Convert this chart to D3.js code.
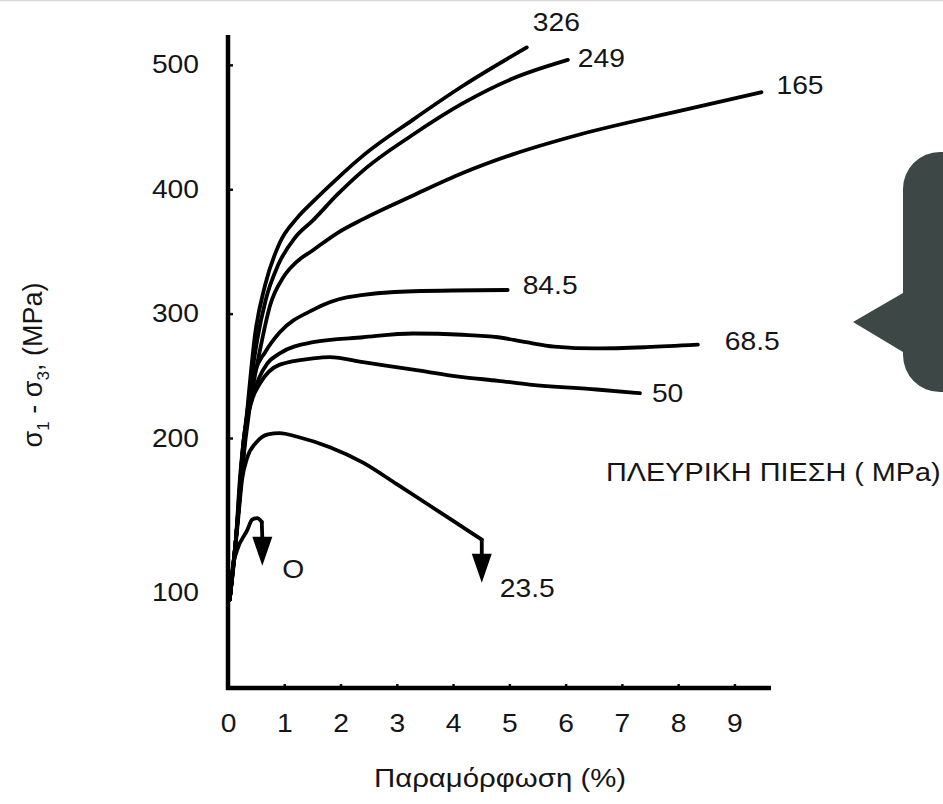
<!DOCTYPE html>
<html><head><meta charset="utf-8">
<script src="https://cdn.jsdelivr.net/npm/d3@7"></script>
<style>
body{margin:0;background:#fff}
text{font-family:"Liberation Sans",Arial,Helvetica,sans-serif;fill:#151515}
</style>
</head><body>
<svg id="c" width="943" height="804"></svg>
<script>
// ---------- data ----------
const xTicks = [0,1,2,3,4,5,6,7,8,9];
const yTicks = [100,200,300,400,500];
const xTitle = "Παραμόρφωση (%)";
const legendTitle = "ΠΛΕΥΡΙΚΗ ΠΙΕΣΗ ( MPa)";

const strain326 = [0.03,0.14,0.25,0.36,0.48,0.66,0.92,1.23,1.51,1.95,2.40,3.29,4.17,5.31];
const stress326 = [95,134,179,231,283,323,357,377,390,409,427,456,483,514];

const strain249 = [0.03,0.14,0.25,0.37,0.52,0.67,0.89,1.19,1.51,1.95,2.40,3.29,4.17,5.06,6.04];
const stress249 = [95,134,179,231,279,311,339,361,375,396,415,444,469,489,504];

const strain165 = [0.03,0.14,0.25,0.39,0.57,0.75,0.98,1.23,1.51,1.95,2.40,3.29,4.17,5.06,6.25,8.03,9.48];
const stress165 = [95,134,179,226,271,307,329,342,351,365,376,395,413,428,444,463,478];

const strain845 = [0.03,0.14,0.21,0.32,0.48,0.66,0.92,1.51,2.11,3.29,4.97];
const stress845 = [95,134,173,214,253,269,285,303,313,318,319];

const strain685 = [0.03,0.14,0.28,0.42,0.55,0.70,0.92,1.51,2.40,3.29,4.17,4.80,5.30,5.80,6.55,7.44,8.35];
const stress685 = [95,134,199,231,248,260,268,277,281,284,283,281,277,273.5,272,273,275];

const strain50 = [0.03,0.14,0.28,0.43,0.57,0.92,1.51,1.81,2.40,3.29,4.17,4.80,5.36,6.55,7.32];
const stress50 = [95,134,199,231,244,259,264,265,261,255,249,246,243,239,236];

const strain235 = [0.03,0.11,0.18,0.25,0.34,0.50,0.71,0.92,1.23,1.81,2.40,3.00,3.59,4.05,4.51];
const stress235 = [95,121,147,173,187,197,203,204,201,194,184,170,156,145,134];
const arrowTip235 = [4.51,106];

const strain0 = [0.03,0.08,0.16,0.34,0.43,0.52,0.60];
const stress0 = [95,115,127,140,147,148,145.5];
const arrowTip0 = [0.61,117];

const seriesNames = ["326","249","165","84.5","68.5","50","23.5","O"];

// ---------- setup ----------
const svg = d3.select("#c");
const SX = 1.13; // horizontal stretch of the original lettering
const FS = 25;

svg.append("rect").attr("width",943).attr("height",804).attr("fill","#fff");
svg.append("line").attr("x1",0).attr("x2",943).attr("y1",0.5).attr("y2",0.5)
  .attr("stroke","#d8d8d8").attr("stroke-width",1.5);

const x = d3.scaleLinear().domain([0, 9.65]).range([228, 771]);
// the original's vertical axis is not uniform below 200
const y = d3.scaleLinear().domain([38, 100, 200, 524]).range([688, 592, 438, 35]);

// callout decoration at right
svg.append("path")
  .attr("d","M943,152 L940,152 A37,37 0 0 0 903,189 L903,293 L853,322 L903,352 L903,355 A37,37 0 0 0 940,392 L943,392 Z")
  .attr("fill","#3d4745");

// axes
const xAxis = svg.append("g").attr("transform",`translate(0,${y(38)})`)
  .call(d3.axisBottom(x).tickValues(xTicks).tickSize(-4).tickPadding(26).tickSizeOuter(0));
const yAxis = svg.append("g").attr("transform",`translate(${x(0)},0)`)
  .call(d3.axisLeft(y).tickValues(yTicks).tickSize(-5).tickPadding(29).tickSizeOuter(0));
[xAxis,yAxis].forEach(g=>{
  g.select(".domain").remove();
  g.selectAll(".tick line").attr("stroke","#111").attr("stroke-width",2.5);
  g.selectAll(".tick text").attr("font-size",FS).attr("fill","#151515")
    .style("font-family",'"Liberation Sans",Arial,sans-serif');
});
yAxis.selectAll(".tick text").attr("x",-29/SX).attr("transform",`scale(${SX},1)`);
xAxis.selectAll(".tick text").attr("transform",`scale(${SX},1)`);

svg.append("line").attr("x1",x(0)).attr("x2",x(0)).attr("y1",y(524)).attr("y2",y(38)+2)
  .attr("stroke","#000").attr("stroke-width",4.5);
svg.append("line").attr("x1",x(0)-2).attr("x2",x(9.65)).attr("y1",y(38)).attr("y2",y(38))
  .attr("stroke","#000").attr("stroke-width",4.5);

// curves
const line = d3.line().x(d=>x(d[0])).y(d=>y(d[1])).curve(d3.curveMonotoneX);
const zip = (a,b)=>a.map((v,i)=>[v,b[i]]);
const curves = [
  zip(strain326,stress326), zip(strain249,stress249), zip(strain165,stress165),
  zip(strain845,stress845), zip(strain685,stress685), zip(strain50,stress50),
  zip(strain235,stress235), zip(strain0,stress0)
];
const cg = svg.append("g").attr("fill","none").attr("stroke","#000")
  .attr("stroke-width",3.8).attr("stroke-linecap","round").attr("stroke-linejoin","round");
curves.forEach(c=>cg.append("path").attr("d",line(c)));

// arrow heads (failure)
function arrow(last, tip){
  const tx = x(tip[0]), ty = y(tip[1]);
  const baseY = ty - 29;
  cg.append("path").attr("d",`M${x(last[0])},${y(last[1])} L${tx},${baseY+2}`);
  svg.append("path").attr("d",`M${tx-10},${baseY} L${tx+10},${baseY} L${tx},${ty} Z`).attr("fill","#000");
}
arrow(curves[6][curves[6].length-1], arrowTip235);
arrow(curves[7][curves[7].length-1], arrowTip0);

// text helper with stretch
function stext(px,py,str,anchor,size){
  const g = svg.append("g").attr("transform",`translate(${px},${py}) scale(${SX},1)`);
  return g.append("text").attr("text-anchor",anchor||"start").attr("dy","0.35em")
    .attr("font-size",size||FS).text(str);
}

// series labels
const labelOffsets = [[6,-25],[10,-2],[15,-7],[15,-5],[27,-3],[12,0],[18,5],[20,3]];
const ends = curves.map(c=>c[c.length-1]);
ends[6] = arrowTip235; ends[7] = arrowTip0;
seriesNames.forEach((n,i)=>{
  const e = ends[i];
  stext(x(e[0])+labelOffsets[i][0], y(e[1])+labelOffsets[i][1], n, "start");
});

// titles
stext(500, 778, xTitle, "middle", 26);
stext(606, 472, legendTitle, "start", 25.5);

const yt = svg.append("text").attr("transform","translate(42,365) rotate(-90)")
  .attr("text-anchor","middle").attr("font-size",27);
yt.append("tspan").text("σ");
yt.append("tspan").attr("font-size",17).attr("dy",7).text("1");
yt.append("tspan").attr("dy",-7).text(" - σ");
yt.append("tspan").attr("font-size",17).attr("dy",7).text("3");
yt.append("tspan").attr("dy",-7).text(", (MPa)");
</script>
</body></html>
